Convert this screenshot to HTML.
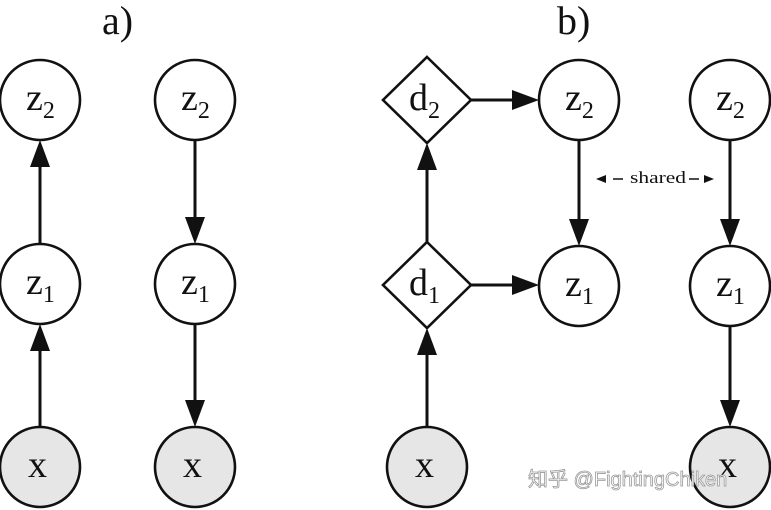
<!DOCTYPE html>
<html><head><meta charset="utf-8"><style>
html,body{margin:0;padding:0;background:#fff;}
svg{display:block}
text{font-family:"Liberation Serif",serif;fill:#111}
</style></head><body>
<svg width="771" height="510" viewBox="0 0 771 510" xmlns="http://www.w3.org/2000/svg">
<g stroke="#111" stroke-width="2.6" fill="#fff">
<circle cx="40" cy="100" r="40"/>
<circle cx="40" cy="284" r="40"/>
<circle cx="40" cy="467" r="40" fill="#e6e6e6"/>
<circle cx="195" cy="100" r="40"/>
<circle cx="195" cy="284" r="40"/>
<circle cx="195" cy="467" r="40" fill="#e6e6e6"/>
<polygon points="427,57 471,100 427,143 383,100"/>
<polygon points="427,242 471,285 427,328 383,285"/>
<circle cx="427" cy="467" r="40" fill="#e6e6e6"/>
<circle cx="579" cy="100" r="40"/>
<circle cx="579" cy="286" r="40"/>
<circle cx="730" cy="100" r="40"/>
<circle cx="730" cy="286" r="40"/>
<circle cx="730" cy="467" r="40" fill="#e6e6e6"/>
</g>
<g stroke="#111" stroke-width="3">
<line x1="40" y1="244" x2="40" y2="160"/>
<line x1="40" y1="427" x2="40" y2="344"/>
<line x1="195" y1="140" x2="195" y2="225"/>
<line x1="195" y1="324" x2="195" y2="408"/>
<line x1="427" y1="242" x2="427" y2="160"/>
<line x1="427" y1="427" x2="427" y2="345"/>
<line x1="471" y1="100" x2="520" y2="100"/>
<line x1="471" y1="285" x2="520" y2="285"/>
<line x1="579" y1="140" x2="579" y2="226"/>
<line x1="730" y1="140" x2="730" y2="226"/>
<line x1="730" y1="326" x2="730" y2="408"/>
</g>
<g fill="#111">
<polygon points="40,140 30,167 50,167"/>
<polygon points="40,324 30,351 50,351"/>
<polygon points="195,244 185,217 205,217"/>
<polygon points="195,427 185,400 205,400"/>
<polygon points="427,143 417,170 437,170"/>
<polygon points="427,328 417,355 437,355"/>
<polygon points="539,100 512,90 512,110"/>
<polygon points="539,285 512,275 512,295"/>
<polygon points="579,246 569,219 589,219"/>
<polygon points="730,246 720,219 740,219"/>
<polygon points="730,427 720,400 740,400"/>
<polygon points="596,179 606,175 606,183"/>
<polygon points="714,179 704,175 704,183"/>
</g>
<g stroke="#111" stroke-width="1.5">
<line x1="613" y1="179" x2="623" y2="179"/>
<line x1="689" y1="179" x2="699" y2="179"/>
</g>
<text x="630" y="183" font-size="16.5" textLength="56" lengthAdjust="spacingAndGlyphs">shared</text>
<text x="102" y="34" font-size="40">a)</text>
<text x="557" y="34" font-size="40">b)</text>
<g font-size="38">
<text x="26" y="110">z<tspan font-size="24" dy="8">2</tspan></text>
<text x="26" y="294">z<tspan font-size="24" dy="8">1</tspan></text>
<text x="181" y="110">z<tspan font-size="24" dy="8">2</tspan></text>
<text x="181" y="294">z<tspan font-size="24" dy="8">1</tspan></text>
<text x="565" y="110">z<tspan font-size="24" dy="8">2</tspan></text>
<text x="565" y="296">z<tspan font-size="24" dy="8">1</tspan></text>
<text x="716" y="110">z<tspan font-size="24" dy="8">2</tspan></text>
<text x="716" y="296">z<tspan font-size="24" dy="8">1</tspan></text>
<text x="409" y="110">d<tspan font-size="24" dy="8">2</tspan></text>
<text x="409" y="295">d<tspan font-size="24" dy="8">1</tspan></text>
<text x="28" y="477">x</text>
<text x="183" y="477">x</text>
<text x="415" y="477">x</text>
<text x="718" y="477">x</text>
</g>
<text x="528" y="486" font-size="20" style="font-family:'Liberation Sans','Noto Sans CJK SC',sans-serif;fill:#fff;stroke:#999;stroke-width:0.8">知乎 @FightingChiken</text>
</svg>
</body></html>
